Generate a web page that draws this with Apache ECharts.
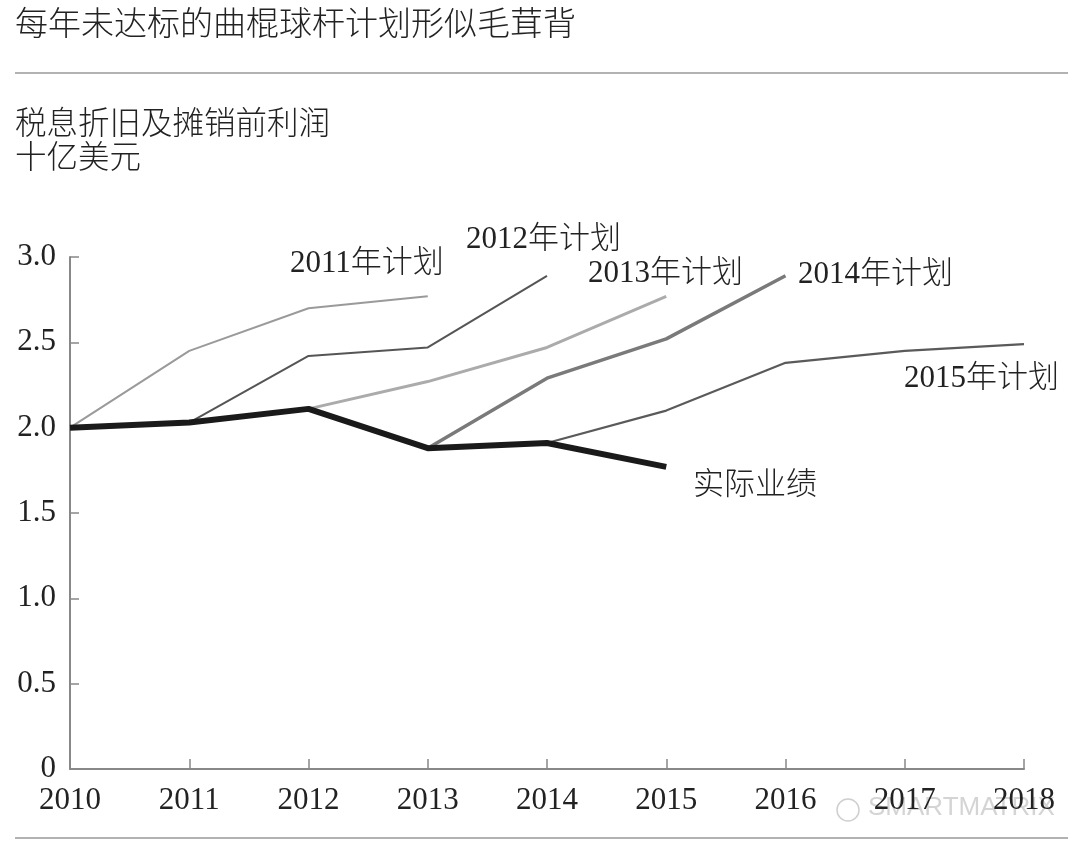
<!DOCTYPE html>
<html>
<head>
<meta charset="utf-8">
<script src="https://cdn.jsdelivr.net/npm/echarts@6/dist/echarts.min.js"></script>
<style>
html,body{margin:0;padding:0;background:#fff;}
#chart{width:1080px;height:854px;}
</style>
</head>
<body>
<div id="chart"></div>
<script>
// ---- data ----
const title = '每年未达标的曲棍球杆计划形似毛茸背';
const subtitle1 = '税息折旧及摊销前利润';
const subtitle2 = '十亿美元';
const yearTicks = [2010, 2011, 2012, 2013, 2014, 2015, 2016, 2017, 2018];
const yTicks = [0, 0.5, 1.0, 1.5, 2.0, 2.5, 3.0];

const actualYears = [2010, 2011, 2012, 2013, 2014, 2015];
const actualValues = [2.00, 2.03, 2.11, 1.88, 1.91, 1.77];

const plan2011Years = [2010, 2011, 2012, 2013];
const plan2011Values = [2.00, 2.45, 2.70, 2.77];

const plan2012Years = [2011, 2012, 2013, 2014];
const plan2012Values = [2.03, 2.42, 2.47, 2.89];

const plan2013Years = [2012, 2013, 2014, 2015];
const plan2013Values = [2.11, 2.27, 2.47, 2.77];

const plan2014Years = [2013, 2014, 2015, 2016];
const plan2014Values = [1.88, 2.29, 2.52, 2.89];

const plan2015Years = [2014, 2015, 2016, 2017, 2018];
const plan2015Values = [1.91, 2.10, 2.38, 2.45, 2.49];

const seriesNames = ['2011年计划', '2012年计划', '2013年计划', '2014年计划', '2015年计划', '实际业绩'];

// ---- build ----
function pairs(xs, ys) { return xs.map((x, i) => [x, ys[i]]); }

const serifFont = '"Liberation Serif", "Noto Sans CJK SC", serif';
const cjkFont = '"Noto Sans CJK SC", sans-serif';
const textColor = '#222';

function lineSeries(name, data, color, width, z) {
  return {
    name: name, type: 'line', data: data, symbol: 'none', z: z,
    lineStyle: { color: color, width: width },
    emphasis: { disabled: true }, animation: false
  };
}

function label(text, x, y, size, font) {
  return {
    type: 'text', left: x, top: y,
    style: { text: text, font: '300 ' + (size || 31) + 'px ' + (font || serifFont), fill: textColor }
  };
}

const chart = echarts.init(document.getElementById('chart'));
chart.setOption({
  backgroundColor: '#fff',
  animation: false,
  grid: { left: 70, right: 56, top: 257, bottom: 85, containLabel: false },
  xAxis: {
    type: 'value', min: yearTicks[0], max: yearTicks[yearTicks.length - 1], interval: 1,
    splitLine: { show: false },
    axisLine: { show: true, lineStyle: { color: '#888', width: 2 } },
    axisTick: { show: true, inside: true, length: 10, lineStyle: { color: '#888', width: 1.5 } },
    axisLabel: { formatter: v => String(v), color: textColor, fontSize: 31, fontFamily: serifFont, margin: 16 }
  },
  yAxis: {
    type: 'value', min: yTicks[0], max: yTicks[yTicks.length - 1], interval: 0.5,
    splitLine: { show: false },
    axisLine: { show: true, lineStyle: { color: '#888', width: 2 } },
    axisTick: { show: true, inside: true, length: 9, lineStyle: { color: '#888', width: 1.5 } },
    axisLabel: { formatter: v => v === 0 ? '0' : v.toFixed(1), color: textColor, fontSize: 31, fontFamily: serifFont, margin: 14 }
  },
  series: [
    lineSeries(seriesNames[0], pairs(plan2011Years, plan2011Values), '#9a9a9a', 2, 2),
    lineSeries(seriesNames[1], pairs(plan2012Years, plan2012Values), '#555', 2, 2),
    lineSeries(seriesNames[2], pairs(plan2013Years, plan2013Values), '#ababab', 3, 2),
    lineSeries(seriesNames[3], pairs(plan2014Years, plan2014Values), '#7a7a7a', 3.5, 2),
    lineSeries(seriesNames[4], pairs(plan2015Years, plan2015Values), '#5a5a5a', 2.2, 2),
    lineSeries(seriesNames[5], pairs(actualYears, actualValues), '#1a1a1a', 6, 5)
  ],
  graphic: [
    label(title, 15, 6, 33, cjkFont),
    { type: 'line', shape: { x1: 15, y1: 73, x2: 1068, y2: 73 }, style: { stroke: '#999', lineWidth: 1.5 } },
    label(subtitle1, 15, 106, 31.5, cjkFont),
    label(subtitle2, 15, 140, 31.5, cjkFont),
    label(seriesNames[0], 290, 248),
    label(seriesNames[1], 466, 224),
    label(seriesNames[2], 588, 258),
    label(seriesNames[3], 798, 259),
    label(seriesNames[4], 904, 363),
    label(seriesNames[5], 693, 467, 31, cjkFont),
    { type: 'text', left: 868, top: 795, style: { text: 'SMARTMATRIX', font: '26px "Liberation Sans", sans-serif', fill: 'rgba(160,160,160,0.45)' } },
    { type: 'circle', shape: { cx: 848, cy: 810, r: 11 }, style: { fill: 'none', stroke: 'rgba(160,160,160,0.5)', lineWidth: 1.5 } },
    { type: 'line', shape: { x1: 15, y1: 838, x2: 1068, y2: 838 }, style: { stroke: '#999', lineWidth: 1.5 } }
  ]
});
</script>
</body>
</html>
